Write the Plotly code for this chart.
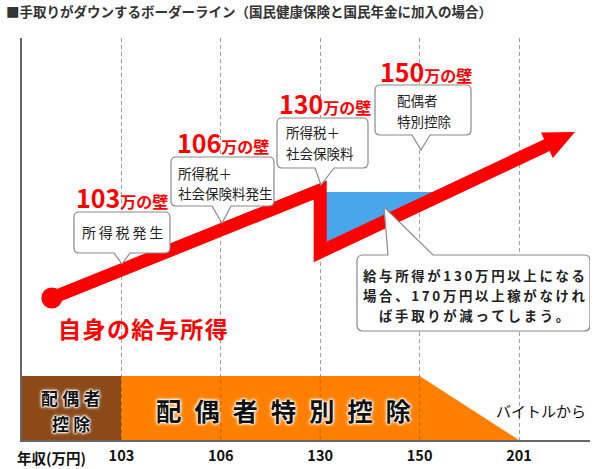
import math
import plotly.graph_objects as go

# ---------------- data ----------------
wall_labels = ["103", "106", "130", "150", "201"]      # 年収(万円) tick labels
wall_index = [1, 2, 3, 4, 5]
wall_title_nums = ["103", "106", "130", "150"]
wall_notes = [["所得税発生"], ["所得税＋", "社会保険料発生"], ["所得税＋", "社会保険料"], ["配偶者", "特別控除"]]
income_x = [0.30, 3.0, 3.0, 5.563]                     # 自身の給与所得 (take-home path)
income_y = [142, 250, 188, 308]
loss_x = [3.0, 3.0, 4.28]                              # take-home loss area
loss_y = [248, 188, 248]
spouse_ded_x = [0, 0, 1, 1]                            # 配偶者控除
spouse_ded_y = [0, 64, 64, 0]
special_ded_x = [1, 1, 4, 5]                           # 配偶者特別控除
special_ded_y = [0, 64, 64, 0]
note_text = ["給与所得が130万円以上になる", "場合、170万円以上稼がなけれ", "ば手取りが減ってしまう。"]

# ---------------- layout helpers ----------------
W, H = 598, 469
L, R, T, B = 22, 8, 38, 29
PW, PH = W - L - R, H - T - B
PITCH = 99.4
XMAX = PW / PITCH
YMAX = PH
FONT = "Noto Sans CJK JP"
RED = "#ff0000"


def X(px):
    return (px - L) / PITCH


def Y(py):
    return (H - B) - py


def PXp(px):
    return (px - L) / PW


def PYp(py):
    return ((H - B) - py) / PH


def to_px(x, y):
    return L + x * PITCH, (H - B) - y


def P(px, py):
    return f"{X(px):.5f},{Y(py):.3f}"


def callout_path(x0, y0, x1, y1, ta, tb, tip, side="bottom", r=5):
    if side == "bottom":
        return (f"M {P(x0 + r, y0)} L {P(x1 - r, y0)} Q {P(x1, y0)} {P(x1, y0 + r)} "
                f"L {P(x1, y1 - r)} Q {P(x1, y1)} {P(x1 - r, y1)} L {P(tb, y1)} L {P(*tip)} "
                f"L {P(ta, y1)} L {P(x0 + r, y1)} Q {P(x0, y1)} {P(x0, y1 - r)} "
                f"L {P(x0, y0 + r)} Q {P(x0, y0)} {P(x0 + r, y0)} Z")
    return (f"M {P(x0 + r, y0)} L {P(ta, y0)} L {P(*tip)} L {P(tb, y0)} L {P(x1 - r, y0)} "
            f"Q {P(x1, y0)} {P(x1, y0 + r)} L {P(x1, y1 - r)} Q {P(x1, y1)} {P(x1 - r, y1)} "
            f"L {P(x0 + r, y1)} Q {P(x0, y1)} {P(x0, y1 - r)} L {P(x0, y0 + r)} "
            f"Q {P(x0, y0)} {P(x0 + r, y0)} Z")


fig = go.Figure()

# band: deductions
fig.add_trace(go.Scatter(x=spouse_ded_x, y=spouse_ded_y, fill="toself", mode="lines",
                         line=dict(width=0), fillcolor="#8b4a17", hoverinfo="skip"))
fig.add_trace(go.Scatter(x=special_ded_x, y=special_ded_y, fill="toself", mode="lines",
                         line=dict(width=0), fillcolor="#ff8000", hoverinfo="skip"))
# faint guide lines through band
for wi in wall_index[:4]:
    fig.add_trace(go.Scatter(x=[wi, wi], y=[0, max(special_ded_y)], mode="lines",
                             line=dict(color="rgba(90,40,0,0.35)", width=1, dash="4px,3px"),
                             hoverinfo="skip"))

# loss area
fig.add_trace(go.Scatter(x=loss_x, y=loss_y, fill="toself", mode="lines",
                         line=dict(width=0), fillcolor="#4aa6ea", hoverinfo="skip"))

# income line with arrow head
tip = to_px(income_x[-1], income_y[-1])
prev = to_px(income_x[-2], income_y[-2])
dx, dy = tip[0] - prev[0], tip[1] - prev[1]
n = math.hypot(dx, dy)
ux, uy = dx / n, dy / n
head_len, half_w = 31, 14
base = (tip[0] - ux * head_len, tip[1] - uy * head_len)
line_end = (base[0] + ux * 3, base[1] + uy * 3)
wing1 = (base[0] - uy * half_w, base[1] + ux * half_w)
wing2 = (base[0] + uy * half_w, base[1] - ux * half_w)

fig.add_trace(go.Scatter(x=income_x[:-1] + [X(line_end[0])], y=income_y[:-1] + [Y(line_end[1])],
                         mode="lines", line=dict(color=RED, width=13), hoverinfo="skip"))
fig.add_trace(go.Scatter(x=[X(wing1[0]), X(tip[0]), X(wing2[0]), X(wing1[0])],
                         y=[Y(wing1[1]), Y(tip[1]), Y(wing2[1]), Y(wing1[1])],
                         fill="toself", mode="lines", line=dict(width=0), fillcolor=RED,
                         hoverinfo="skip"))
fig.add_trace(go.Scatter(x=[income_x[0]], y=[income_y[0]], mode="markers",
                         marker=dict(color=RED, size=21), hoverinfo="skip"))

# ---------------- callouts ----------------
boxes = [
    dict(b=(74, 212, 170, 253), t=(114, 130), tip=(122, 264)),
    dict(b=(171, 157, 274, 206), t=(212, 231), tip=(222, 223)),
    dict(b=(277, 118, 368, 168), t=(315, 334), tip=(321, 185)),
    dict(b=(375, 85, 471, 135), t=(412, 430), tip=(421, 150)),
]
shapes = []
for bx in boxes:
    x0, y0, x1, y1 = bx["b"]
    shapes.append(dict(type="path", xref="x", yref="y", layer="above",
                       path=callout_path(x0, y0, x1, y1, bx["t"][0], bx["t"][1], bx["tip"]),
                       fillcolor="white", line=dict(color="#8a8a8a", width=1.2)))
shapes.append(dict(type="path", xref="x", yref="y", layer="above",
                   path=callout_path(357, 255, 590, 331, 388, 433, (384, 207), side="top", r=6),
                   fillcolor="white", line=dict(color="#8a8a8a", width=1.2)))

ann = []


def text(px, py, s, size, color="#222", weight="normal", xanchor="center", shadow=None):
    f = dict(family=FONT, size=size, color=color, weight=weight)
    if shadow:
        f["shadow"] = shadow
    ann.append(dict(x=PXp(px), y=PYp(py), xref="paper", yref="paper", text=s, showarrow=False,
                    xanchor=xanchor, yanchor="middle", font=f))


# wall titles
title_pos = [(74, 197), (175, 142), (277, 103), (378, 71)]
for (tx, ty), num in zip(title_pos, wall_title_nums):
    text(tx, ty, f"<span style='font-size:25px'>{num}</span><span style='font-size:16px'>万の壁</span>",
         16, color=RED, weight="bold", xanchor="left")

# notes in callouts
text(122, 232, "\u2009".join(wall_notes[0][0]), 14)
note_pos = [None, (176, [173, 193]), (284, [132, 153]), (395, [100, 121])]
for i in range(1, 4):
    lx, ys = note_pos[i]
    for line, ly in zip(wall_notes[i], ys):
        text(lx, ly, line, 13.5, xanchor="left")

for line, ly in zip(note_text, [274.5, 294.5, 314.5]):
    text(474, ly, "\u2009".join(line), 13.4, weight="bold")

# income label
text(143, 328, "\u200a".join("自身の給与所得"), 23, color=RED, weight="bold")

# band labels
halo = "0 0 2px #fff, 0 0 2px #fff, 0 0 2px #fff, 0 0 3px #fff, 0 0 4px #fff"
text(71, 397, "\u2005".join("配偶者"), 17, color="#111", weight="bold", shadow=halo)
text(71, 423, "\u2005".join("控除"), 17, color="#111", weight="bold", shadow=halo)
text(284, 409, "\u2002".join("配偶者特別控除"), 25.5, color="#111", weight="bold", shadow=halo)
text(541, 410, "バイトルから", 15, color="#111")

# axis caption
text(51, 457, "年収(万円)", 14.5, color="#111", weight="bold")

fig.update_layout(
    width=W, height=H,
    margin=dict(l=L, r=R, t=T, b=B, pad=0, autoexpand=False),
    paper_bgcolor="white", plot_bgcolor="white",
    showlegend=False,
    shapes=shapes, annotations=ann,
    title=dict(text="■手取りがダウンするボーダーライン（国民健康保険と国民年金に加入の場合）",
               x=6 / W, xref="container", xanchor="left",
               y=1 - 12 / H, yref="container", yanchor="middle", automargin=False,
               font=dict(family=FONT, size=13.5, color="#333", weight="bold")),
    xaxis=dict(range=[0, XMAX], tickvals=wall_index, ticktext=wall_labels, automargin=False,
               showgrid=True, gridcolor="#a0a0a0", gridwidth=1, griddash="4px,3px",
               zeroline=False, showline=True, linecolor="#666", linewidth=2,
               ticks="outside", ticklen=2, tickcolor="rgba(0,0,0,0)",
               tickfont=dict(family=FONT, size=14.5, color="#111", weight="bold"),
               fixedrange=True),
    yaxis=dict(range=[0, YMAX], showgrid=False, zeroline=False, showticklabels=False,
               automargin=False,
               showline=True, linecolor="#666", linewidth=2, fixedrange=True),
)

fig.write_html("out.html", config={"displayModeBar": False},
               post_script="document.body.style.margin='0';document.body.style.overflow='hidden';")
